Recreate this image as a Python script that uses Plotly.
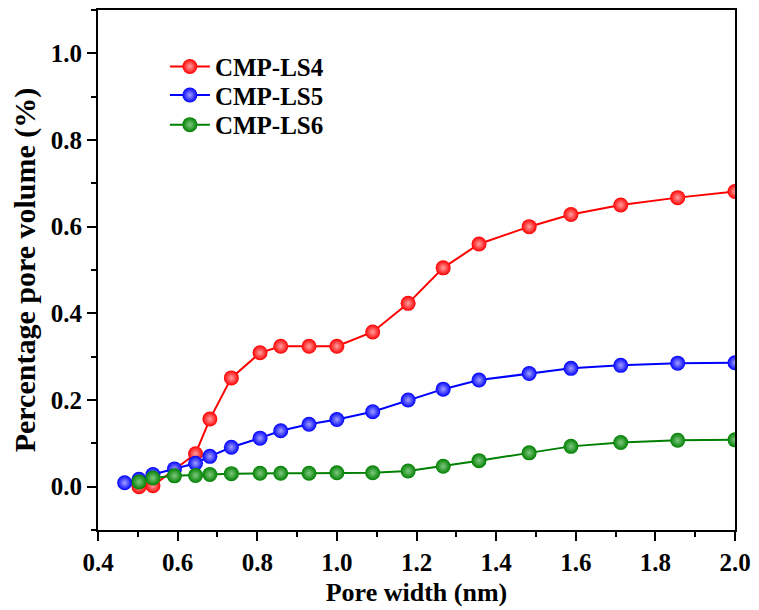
import plotly.graph_objects as go

# Pore width (nm)
x_ls4 = [0.503, 0.538, 0.645, 0.681, 0.735, 0.807, 0.859, 0.930, 1.000, 1.090,
         1.179, 1.267, 1.357, 1.483, 1.588, 1.713, 1.856, 2.000]
y_ls4 = [0.000, 0.002, 0.076, 0.156, 0.251, 0.309, 0.324, 0.324, 0.324, 0.357,
         0.423, 0.505, 0.560, 0.600, 0.628, 0.650, 0.667, 0.681]

x_ls5 = [0.467, 0.503, 0.538, 0.592, 0.645, 0.681, 0.735, 0.807, 0.859, 0.930,
         1.000, 1.090, 1.179, 1.267, 1.357, 1.483, 1.588, 1.713, 1.856, 2.000]
y_ls5 = [0.009, 0.017, 0.028, 0.041, 0.054, 0.070, 0.091, 0.112, 0.129, 0.144,
         0.155, 0.173, 0.200, 0.225, 0.246, 0.261, 0.273, 0.280, 0.285, 0.286]

x_ls6 = [0.503, 0.538, 0.592, 0.645, 0.681, 0.735, 0.807, 0.859, 0.930, 1.000,
         1.090, 1.179, 1.267, 1.357, 1.483, 1.588, 1.713, 1.856, 2.000]
y_ls6 = [0.011, 0.020, 0.025, 0.026, 0.028, 0.030, 0.031, 0.031, 0.031, 0.032,
         0.032, 0.036, 0.047, 0.060, 0.078, 0.093, 0.102, 0.107, 0.108]

names = ["CMP-LS4", "CMP-LS5", "CMP-LS6"]
colors = ["#FF0000", "#0000FF", "#008000"]
highlights = ["#FFA0A0", "#A0A0FF", "#80C880"]
legend_ids = ["legend", "legend2", "legend3"]
legend_y = [0.891, 0.836, 0.779]

FONT = "Liberation Serif, Times New Roman, serif"

fig = go.Figure()
for xs, ys, name, c, h, lg in zip([x_ls4, x_ls5, x_ls6], [y_ls4, y_ls5, y_ls6],
                                  names, colors, highlights, legend_ids):
    fig.add_trace(go.Scatter(
        x=xs, y=ys, name=name, mode="lines+markers", legend=lg,
        showlegend=True,
        line=dict(color=c, width=2),
        marker=dict(color=c, size=15, line=dict(width=0),
                    gradient=dict(type="radial", color=h)),
    ))

axis_common = dict(
    showline=True, linecolor="black", linewidth=2, mirror=True,
    ticks="outside", ticklen=9, tickwidth=2, tickcolor="black",
    showgrid=False, zeroline=False,
    tickfont=dict(family=FONT, size=25, color="black", weight="bold"),
    minor=dict(ticks="outside", ticklen=5, tickwidth=2, tickcolor="black", dtick=0.1),
)

fig.update_xaxes(
    range=[0.4, 2.0], tick0=0.4, dtick=0.2, tickformat=".1f",
    title=dict(text="Pore width (nm)", standoff=8,
               font=dict(family=FONT, size=26, color="black", weight="bold")),
    **axis_common,
)
fig.update_yaxes(
    range=[-0.1, 1.1], tickvals=[0, 0.2, 0.4, 0.6, 0.8, 1.0], tickformat=".1f",
    title=dict(text="Percentage pore volume (%)", standoff=6,
               font=dict(family=FONT, size=30, color="black", weight="bold")),
    **axis_common,
)

legend_style = dict(x=0.105, xanchor="left", yanchor="middle",
                    bgcolor="rgba(0,0,0,0)",
                    font=dict(family=FONT, size=25, color="black", weight="bold"),
                    itemwidth=40)

fig.update_layout(
    width=759, height=610,
    margin=dict(l=98, r=19, t=8, b=78),
    plot_bgcolor="white", paper_bgcolor="white",
    font=dict(family=FONT, color="black"),
    showlegend=True,
    legend=dict(y=legend_y[0], **legend_style),
    legend2=dict(y=legend_y[1], **legend_style),
    legend3=dict(y=legend_y[2], **legend_style),
)

fig.write_html("out.html")
